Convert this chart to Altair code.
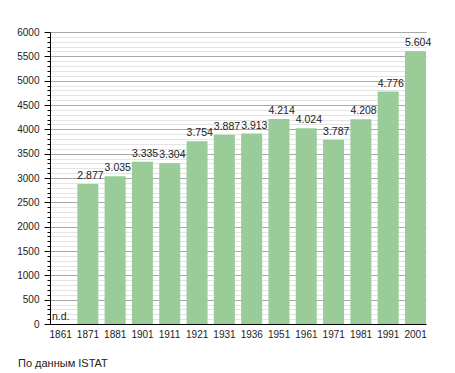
import altair as alt
import pandas as pd

years = ["1861", "1871", "1881", "1901", "1911", "1921", "1931", "1936",
         "1951", "1961", "1971", "1981", "1991", "2001"]
population = [None, 2877, 3035, 3335, 3304, 3754, 3887, 3913,
              4214, 4024, 3787, 4208, 4776, 5604]
y_ticks = list(range(0, 6001, 100))
source_note = "По данным  ISTAT"

df = pd.DataFrame({"year": years, "pop": population})
df["zero"] = 0

FONT = "Liberation Sans"
BAR = "#99cc99"

x_axis = alt.Axis(labelAngle=0, ticks=False, domainColor="#000000",
                  labelFont=FONT, labelFontSize=10, labelColor="#222222",
                  labelAlign="left", labelOffset=-11,
                  labelPadding=5)
x_scale = alt.Scale(paddingInner=0.23, paddingOuter=0)
y_axis = alt.Axis(values=y_ticks,
                  labelExpr="datum.value % 500 === 0 ? datum.value : ''",
                  labelOverlap=False,
                  labelFont=FONT, labelFontSize=10, labelColor="#222222",
                  labelPadding=5,
                  domainColor="#000000",
                  tickColor="#000000",
                  tickSize={"condition": {"test": "datum.value % 500 === 0", "value": 6}, "value": 3},
                  grid=True,
                  gridColor={"condition": {"test": "datum.value % 500 === 0", "value": "#a8a8a8"}, "value": "#e4e4e4"},
                  gridWidth=1)
y_scale = alt.Scale(domain=[0, 6000], nice=False)


def X():
    return alt.X("year:N", sort=years, title=None, scale=x_scale, axis=x_axis)


def Y(field):
    return alt.Y(field, title=None, scale=y_scale, axis=y_axis)


base = alt.Chart(df)

bars = base.mark_bar(color=BAR).encode(x=X(), y=Y("pop:Q"))

labels = base.transform_filter("isValid(datum.pop)").transform_calculate(
    lbl="replace(format(datum.pop, ','), ',', '.')"
).mark_text(font=FONT, fontSize=10.5, color="#222222", baseline="alphabetic",
            align="left", dx=-10.5, dy=-5).encode(
    x=X(), y=Y("pop:Q"), text="lbl:N")

nd = base.transform_filter("!isValid(datum.pop)").transform_calculate(
    lbl="'n.d.'"
).mark_text(font=FONT, fontSize=10.5, color="#222222", baseline="alphabetic",
            align="left", dx=-8.5, dy=-4).encode(
    x=X(), y=Y("zero:Q"), text="lbl:N")

chart = alt.layer(bars, labels, nd).properties(
    width=376, height=292,
    padding={"left": 42, "top": 24, "right": 21, "bottom": 49},
    autosize=alt.AutoSizeParams(type="none"),
    title=alt.TitleParams(source_note, orient="bottom", anchor="start", frame="group",
                          font=FONT, fontSize=11, fontWeight="normal",
                          color="#222222", dx=-32, offset=19),
).configure_view(stroke=None)

chart.save("out.html", embed_options={"renderer": "svg", "actions": False})
